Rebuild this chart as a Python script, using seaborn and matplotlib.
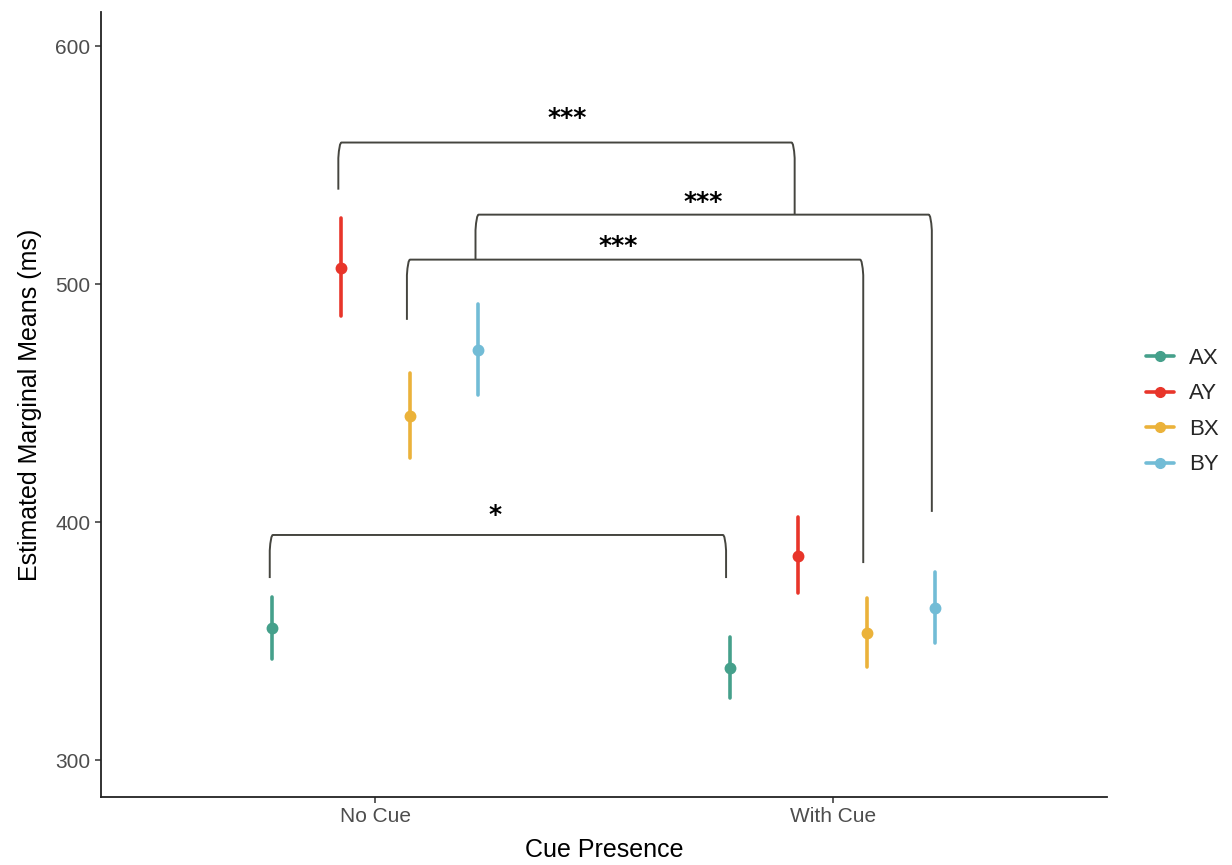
import numpy as np
import pandas as pd
import matplotlib
matplotlib.use("Agg")
import matplotlib.pyplot as plt
from matplotlib.path import Path
from matplotlib.patches import PathPatch
from matplotlib.lines import Line2D
import seaborn as sns

# ---- data ----
cues = ["No Cue", "With Cue"]
conditions = ["AX", "AY", "BX", "BY"]
colors = ["#45A08B", "#E8352A", "#EBB23A", "#72BCD6"]

means_no_cue = [355.4, 506.7, 444.7, 472.4]
lower_no_cue = [342.5, 486.8, 427.0, 453.5]
upper_no_cue = [368.7, 527.8, 462.7, 491.8]

means_with_cue = [338.6, 385.8, 353.3, 363.8]
lower_with_cue = [325.9, 370.1, 339.2, 349.2]
upper_with_cue = [351.9, 402.3, 368.0, 379.2]

# significance brackets
bracket_left = [("No Cue", "AY"), ("No Cue", "BY"), ("No Cue", "BX"), ("No Cue", "AX")]
bracket_right = [("With Cue", "AY"), ("With Cue", "BY"), ("With Cue", "BX"), ("With Cue", "AX")]
bracket_top = [559.5, 529.2, 510.3, 394.6]
bracket_left_bottom = [539.7, 510.3, 485.0, 376.5]
bracket_right_bottom = [529.2, 404.3, 382.8, 376.5]
bracket_labels = ["***", "***", "***", "*"]
label_x = [0.419, 0.716, 0.53, 0.262]
label_y = [569.6, 534.4, 516.0, 402.8]

# ---- build long table: lower / estimate / upper per group ----
rows = []
for cue, m, lo, hi in [("No Cue", means_no_cue, lower_no_cue, upper_no_cue),
                       ("With Cue", means_with_cue, lower_with_cue, upper_with_cue)]:
    for cond, mm, ll, hh in zip(conditions, m, lo, hi):
        for v in (ll, mm, hh):
            rows.append({"Cue": cue, "Condition": cond, "RT": v})
df = pd.DataFrame(rows)

sns.set_theme(style="ticks")
plt.rcParams["font.family"] = ["Liberation Sans", "DejaVu Sans"]

fig = plt.figure(figsize=(12.32, 8.65), dpi=100)
ax = fig.add_axes([0.082, 0.0786, 0.8165, 0.9074])

dodge = 0.45
sns.pointplot(
    data=df, x="Cue", y="RT", hue="Condition",
    order=cues, hue_order=conditions, palette=colors,
    estimator="median", errorbar=lambda x: (x.min(), x.max()),
    dodge=dodge, linestyle="none", markers="o", markersize=6.5,
    err_kws={"linewidth": 2.6}, legend=False, ax=ax,
)

ax.set_xlim(-0.6, 1.6)
ax.set_ylim(284.5, 614.3)
ax.set_yticks([300, 400, 500, 600])

step = dodge / (len(conditions) - 1)
def xpos(cue, cond):
    return cues.index(cue) - dodge / 2 + step * conditions.index(cond)

rx, ry = 0.007, 6.5
for (lc, lcond), (rc, rcond), yt, ylb, yrb, lab, lx, ly in zip(
        bracket_left, bracket_right, bracket_top, bracket_left_bottom,
        bracket_right_bottom, bracket_labels, label_x, label_y):
    x0 = xpos(lc, lcond) - 0.006
    x1 = xpos(rc, rcond) - 0.008
    verts = [(x0, ylb), (x0, yt - ry), (x0 + 0.002, yt), (x0 + rx, yt),
             (x1 - rx, yt), (x1 - 0.002, yt), (x1, yt - ry), (x1, yrb)]
    codes = [Path.MOVETO, Path.LINETO, Path.CURVE3, Path.CURVE3,
             Path.LINETO, Path.CURVE3, Path.CURVE3, Path.LINETO]
    ax.add_patch(PathPatch(Path(verts, codes), fill=False,
                           edgecolor="#45453f", linewidth=1.4, zorder=1))
    ax.text(lx, ly, lab, ha="center", va="center", fontsize=18,
            color="black", fontweight="bold", family="DejaVu Sans")

sns.despine(ax=ax)
for s in ["left", "bottom"]:
    ax.spines[s].set_linewidth(1.3)
    ax.spines[s].set_color("#222222")
ax.tick_params(axis="both", labelsize=15, colors="#4D4D4D", length=4, width=1.1)
ax.tick_params(axis="both", color="#333333")
ax.set_xlabel("Cue Presence", fontsize=18, color="black", labelpad=8)
ax.set_ylabel("Estimated Marginal Means (ms)", fontsize=18, color="black", labelpad=10)

handles = [Line2D([0], [0], color=c, marker="o", markersize=7, linewidth=2.6)
           for c in colors]
ax.legend(handles, conditions, loc="center left", bbox_to_anchor=(1.019, 0.491),
          frameon=False, fontsize=16, handlelength=1.25, labelspacing=0.65,
          handletextpad=0.7)

fig.savefig("out.png", dpi=100)
